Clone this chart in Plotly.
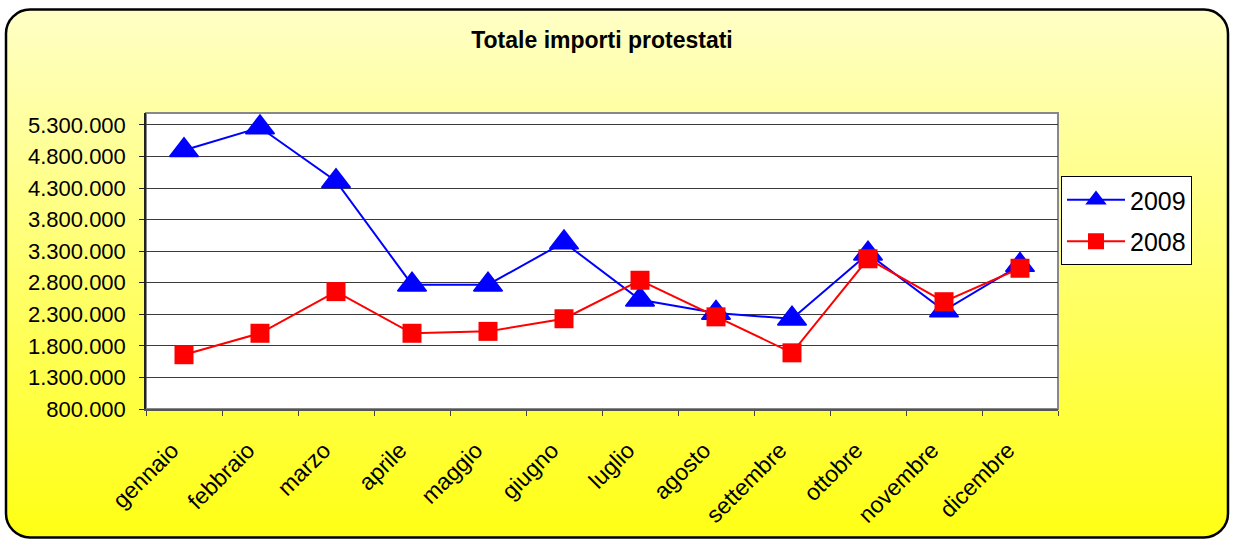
import base64
import plotly.graph_objects as go

months = ["gennaio", "febbraio", "marzo", "aprile", "maggio", "giugno",
          "luglio", "agosto", "settembre", "ottobre", "novembre", "dicembre"]
values_2009 = [4900000, 5260000, 4410000, 2770000, 2770000, 3440000,
               2530000, 2320000, 2230000, 3260000, 2360000, 3080000]
values_2008 = [1660000, 2000000, 2660000, 2000000, 2030000, 2230000,
               2840000, 2260000, 1690000, 3180000, 2500000, 3030000]
ytick_vals = [800000, 1300000, 1800000, 2300000, 2800000, 3300000,
              3800000, 4300000, 4800000, 5300000]

W, H = 1234, 540
L, R, T, B = 146, 176, 113, 131
pw, ph = W - L - R, H - T - B

svg = (
    f'<svg xmlns="http://www.w3.org/2000/svg" width="{W}" height="{H}" viewBox="0 0 {W} {H}">'
    '<defs><linearGradient id="g" x1="0" y1="0" x2="0" y2="1">'
    '<stop offset="0" stop-color="#FFFFC6"/><stop offset="1" stop-color="#FFFF14"/>'
    '</linearGradient></defs>'
    '<rect x="6" y="9.5" width="1222" height="528" rx="24" ry="24" fill="url(#g)" '
    'stroke="#000" stroke-width="2.5"/></svg>'
)
src = "data:image/svg+xml;base64," + base64.b64encode(svg.encode()).decode()

FONT = "Liberation Sans, Arial, sans-serif"

fig = go.Figure()
fig.add_trace(go.Scatter(
    x=months, y=values_2009, name="2009", mode="lines+markers",
    line=dict(color="#0000FF", width=2),
    marker=dict(symbol="triangle-up", size=25, color="#0000FF",
                line=dict(color="#0000FF", width=1.5)),
    legendgroup="a",
))
fig.add_trace(go.Scatter(
    x=months, y=values_2008, name="2008", mode="lines+markers",
    line=dict(color="#FF0000", width=2),
    marker=dict(symbol="square", size=19, color="#FF0000"),
    legendgroup="b",
))

fig.update_layout(
    width=W, height=H,
    margin=dict(l=L, r=R, t=T, b=B),
    paper_bgcolor="white",
    plot_bgcolor="white",
    separators=",.",
    font=dict(family=FONT, color="#000"),
    title=dict(text="<b>Totale importi protestati</b>", x=0.5, xref="paper",
               xanchor="center", y=1 - 40 / H, yanchor="middle",
               font=dict(size=23, family=FONT, color="#000")),
    showlegend=True,
    legend=dict(x=(1061 - L) / pw, y=(409 - 176) / ph, xanchor="left", yanchor="top",
                bgcolor="white", bordercolor="#000", borderwidth=1,
                font=dict(size=25, family=FONT, color="#000"),
                itemwidth=58, tracegroupgap=6, traceorder="grouped"),
    images=[dict(source=src, xref="paper", yref="paper",
                 x=-L / pw, y=(H - B) / ph, sizex=W / pw, sizey=H / ph,
                 xanchor="left", yanchor="top", sizing="stretch", layer="below")],
    shapes=[dict(type="rect", xref="paper", yref="paper", x0=0, x1=1, y0=0, y1=1,
                 fillcolor="white", line=dict(color="#888888", width=2), layer="below")],
)

fig.update_xaxes(
    type="category", range=[-0.5, 11.5], tickson="boundaries",
    ticks="outside", ticklen=5, tickcolor="#444", tickwidth=1,
    tickangle=-45, tickfont=dict(size=23, family=FONT, color="#000"),
    showline=True, linecolor="#555", linewidth=1.5, showgrid=False,
    ticklabelstandoff=17, ticklabelshift=-12,
)
fig.update_yaxes(
    range=[800000, 5490000], tickvals=ytick_vals, tickformat=",d",
    ticks="outside", ticklen=5, tickcolor="#222", tickwidth=1,
    tickfont=dict(size=22, family=FONT, color="#000"),
    showline=True, linecolor="#222", linewidth=1.5,
    showgrid=True, gridcolor="#3a3a3a", gridwidth=1, zeroline=False,
    ticklabelstandoff=9,
)

fig.write_html("out.html", config={"displayModeBar": False},
               post_script="document.body.style.margin='0';")
